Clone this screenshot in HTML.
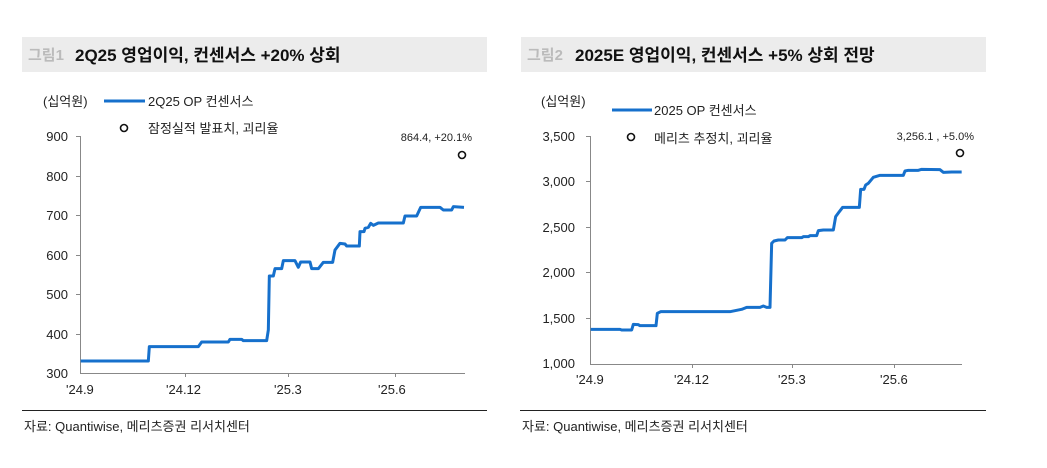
<!DOCTYPE html>
<html><head><meta charset="utf-8"><style>
body{margin:0;background:#fff;width:1047px;height:463px;overflow:hidden;font-family:"Liberation Sans","Noto Sans CJK KR",sans-serif;}
</style></head><body>
<svg width="1047" height="463" xmlns="http://www.w3.org/2000/svg" font-family="Liberation Sans, Noto Sans CJK KR, sans-serif">
<rect x="22" y="37" width="465" height="35" fill="#ececec"/>
<rect x="521" y="37" width="465" height="35" fill="#ececec"/>
<text x="28" y="60" font-size="15" fill="#bbb" font-weight="bold">그림1</text>
<text x="75" y="61" font-size="17" fill="#111" font-weight="bold">2Q25 영업이익, 컨센서스 +20% 상회</text>
<text x="527" y="60" font-size="15" fill="#bbb" font-weight="bold">그림2</text>
<text x="575" y="61" font-size="17" fill="#111" font-weight="bold">2025E 영업이익, 컨센서스 +5% 상회 전망</text>

<g font-size="13" fill="#222">
<text x="43" y="106">(십억원)</text>
<line x1="104" y1="101" x2="145" y2="101" stroke="#1670cc" stroke-width="3"/>
<text x="148" y="106">2Q25 OP 컨센서스</text>
<circle cx="124" cy="128" r="3.5" fill="none" stroke="#111" stroke-width="1.6"/>
<text x="148" y="133">잠정실적 발표치, 괴리율</text>
<text x="472" y="141" text-anchor="end" font-size="11">864.4, +20.1%</text>
<circle cx="462" cy="155" r="3.5" fill="none" stroke="#111" stroke-width="1.6"/>
<g text-anchor="end">
<text x="68" y="141">900</text><text x="68" y="181">800</text><text x="68" y="220">700</text><text x="68" y="260">600</text><text x="68" y="299">500</text><text x="68" y="339">400</text><text x="68" y="378">300</text>
</g>
<text x="66" y="394">'24.9</text><text x="166" y="394">'24.12</text><text x="274" y="394">'25.3</text><text x="378" y="394">'25.6</text>
</g>
<g stroke="#888" stroke-width="1">
<line x1="80.5" y1="136" x2="80.5" y2="373"/>
<line x1="80" y1="373.5" x2="465" y2="373.5"/>
<line x1="76" y1="136.5" x2="80" y2="136.5"/><line x1="76" y1="176.5" x2="80" y2="176.5"/><line x1="76" y1="215.5" x2="80" y2="215.5"/><line x1="76" y1="255.5" x2="80" y2="255.5"/><line x1="76" y1="294.5" x2="80" y2="294.5"/><line x1="76" y1="334.5" x2="80" y2="334.5"/>
<line x1="185.5" y1="373" x2="185.5" y2="377"/><line x1="288.5" y1="373" x2="288.5" y2="377"/><line x1="395.5" y1="373" x2="395.5" y2="377"/>
</g>
<g transform="translate(60,190) scale(0.33333)">
<polyline fill="none" stroke="#1670cc" stroke-width="9" stroke-linejoin="round" points="62,513 265,513 268,470 415,470 425,456 505,456 510,448 545,448 550,452 620,452 625,420 628,258 640,258 645,236 665,236 670,212 705,212 715,232 722,216 750,216 755,236 775,236 790,217 818,217 825,180 840,160 855,162 860,168 898,168 900,125 912,125 915,115 925,112 932,100 940,106 955,99 1030,99 1035,78 1070,78 1082,52 1140,52 1150,60 1175,60 1180,50 1212,52"/>
</g>
<line x1="22" y1="410.5" x2="487" y2="410.5" stroke="#222" stroke-width="1"/>
<text x="24" y="431" font-size="13" fill="#222">자료: Quantiwise, 메리츠증권 리서치센터</text>

<g font-size="13" fill="#222">
<text x="541" y="106">(십억원)</text>
<line x1="612" y1="110" x2="652" y2="110" stroke="#1670cc" stroke-width="3"/>
<text x="654" y="115">2025 OP 컨센서스</text>
<circle cx="631" cy="137" r="3.5" fill="none" stroke="#111" stroke-width="1.6"/>
<text x="654" y="143">메리츠 추정치, 괴리율</text>
<text x="974" y="140" text-anchor="end" font-size="11">3,256.1 , +5.0%</text>
<circle cx="960" cy="153" r="3.5" fill="none" stroke="#111" stroke-width="1.6"/>
<g text-anchor="end">
<text x="575" y="141">3,500</text><text x="575" y="186">3,000</text><text x="575" y="232">2,500</text><text x="575" y="277">2,000</text><text x="575" y="323">1,500</text><text x="575" y="368">1,000</text>
</g>
<text x="576" y="384">'24.9</text><text x="674" y="384">'24.12</text><text x="778" y="384">'25.3</text><text x="880" y="384">'25.6</text>
</g>
<g stroke="#888" stroke-width="1">
<line x1="590.5" y1="136" x2="590.5" y2="364"/>
<line x1="590" y1="364.5" x2="962" y2="364.5"/>
<line x1="586" y1="136.5" x2="590" y2="136.5"/><line x1="586" y1="181.5" x2="590" y2="181.5"/><line x1="586" y1="227.5" x2="590" y2="227.5"/><line x1="586" y1="272.5" x2="590" y2="272.5"/><line x1="586" y1="318.5" x2="590" y2="318.5"/>
<line x1="692.5" y1="364" x2="692.5" y2="368"/><line x1="792.5" y1="364" x2="792.5" y2="368"/><line x1="894.5" y1="364" x2="894.5" y2="368"/>
</g>
<g transform="translate(570,160) scale(0.33333)">
<polyline fill="none" stroke="#1670cc" stroke-width="9" stroke-linejoin="round" points="62,508 150,508 155,510 185,510 190,493 205,494 210,497 258,497 262,460 272,455 480,455 515,448 530,442 570,442 580,438 590,442 600,442 605,250 612,243 625,240 645,240 652,233 695,233 700,230 715,230 720,227 740,227 745,212 760,210 790,210 797,170 808,155 818,142 868,142 872,88 882,88 887,75 895,70 910,52 930,46 1000,46 1005,33 1015,31 1045,31 1055,28 1110,29 1120,37 1145,36 1175,36"/>
</g>
<line x1="520" y1="410.5" x2="986" y2="410.5" stroke="#222" stroke-width="1"/>
<text x="522" y="431" font-size="13" fill="#222">자료: Quantiwise, 메리츠증권 리서치센터</text>
</svg>
</body></html>
